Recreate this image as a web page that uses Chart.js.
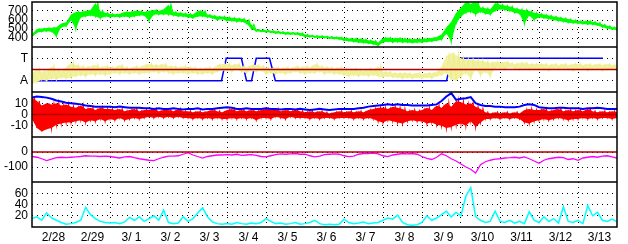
<!DOCTYPE html>
<html>
<head>
<meta charset="utf-8">
<script src="https://cdn.jsdelivr.net/npm/chart.js@4.4.1/dist/chart.umd.min.js"></script>
<style>
  html, body { margin: 0; padding: 0; background: #fff; }
  canvas { display: block; }
</style>
</head>
<body>
<canvas id="chart" width="628" height="244"></canvas>
<script>
// one value every 3 hours, 8 per day, 2/28 00:00 .. 3/14 00:00
const dayLabels = ['2/28', '2/29', '3/ 1', '3/ 2', '3/ 3', '3/ 4', '3/ 5', '3/ 6',
                   '3/ 7', '3/ 8', '3/ 9', '3/10', '3/11', '3/12', '3/13'];
const samplesPerDay = 8;

// solar wind speed, low / high of each 3h bin
const speedLo = [
  420, 460, 470, 475, 470, 420, 520, 530,
  600, 500, 630, 640, 650, 640, 620, 640,
  630, 635, 630, 640, 630, 640, 650, 650,
  590, 660, 660, 660, 660, 650, 640, 640,
  630, 620, 640, 640, 630, 620, 600, 610,
  590, 590, 580, 580, 560, 500, 475, 470,
  465, 460, 450, 450, 440, 440, 440, 430,
  410, 410, 405, 400, 400, 395, 390, 385,
  370, 365, 355, 350, 345, 340, 330, 315,
  350, 360, 350, 355, 350, 350, 345, 350,
  350, 355, 360, 370, 380, 450, 360, 560,
  640, 680, 690, 660, 690, 670, 660, 700,
  720, 710, 700, 680, 670, 560, 650, 600,
  630, 620, 610, 600, 590, 580, 570, 565,
  560, 555, 550, 550, 540, 520, 505, 495, 490
];
const speedHi = [
  445, 500, 505, 510, 515, 520, 560, 575,
  660, 690, 690, 700, 710, 790, 700, 680,
  670, 665, 670, 690, 690, 700, 700, 690,
  700, 710, 700, 720, 770, 690, 680, 675,
  670, 660, 700, 700, 660, 650, 640, 640,
  630, 625, 620, 615, 600, 550, 495, 490,
  485, 480, 475, 470, 465, 460, 460, 455,
  440, 430, 425, 425, 420, 415, 410, 410,
  400, 395, 395, 390, 385, 375, 370, 350,
  400, 405, 395, 400, 395, 390, 385, 390,
  390, 395, 400, 410, 440, 520, 580, 680,
  740, 800, 780, 800, 740, 730, 720, 790,
  770, 760, 750, 730, 720, 710, 700, 680,
  670, 660, 650, 640, 630, 620, 610, 600,
  590, 585, 590, 580, 570, 550, 535, 520, 510
];

// IMF polarity (T = 1, A = -1), low / high of each bin
const polarityLo = [
  -1.3, -1.1, -0.9, -1.0, -0.8, -0.9, -0.7, -0.8,
  -0.7, -0.6, -0.5, -0.6, -0.4, -0.5, -0.4, -0.5,
  -0.4, -0.3, -0.4, -0.3, -0.4, -0.3, -0.4, -0.3,
  -0.3, -0.2, -0.3, -0.2, -0.3, -0.4, -0.3, -0.3,
  -0.4, -0.3, -0.4, -0.4, -0.3, -0.4, -0.2, -0.1,
  -0.1, -0.2, 0.0, -0.2, -0.3, -0.1, -0.2, -0.1,
  -0.4, -0.3, -0.4, -0.3, -0.4, -0.3, -0.2, -0.3,
  -0.4, -0.3, -0.3, -0.2, -0.4, -0.3, -0.4, -0.4,
  -0.5, -0.6, -0.5, -0.6, -0.5, -0.6, -0.5, -0.6,
  -0.7, -0.6, -0.7, -0.7, -0.8, -0.7, -0.8, -0.7,
  -0.8, -0.7, -0.8, -0.6, -0.5, -0.3, -0.9, -1.0,
  -0.6, -0.3, -0.8, 0.0, -0.5, -0.2, -0.6, 0.1,
  0.1, 0.0, 0.2, 0.1, 0.0, 0.1, 0.0, 0.1,
  0.0, 0.1, -0.1, 0.1, 0.0, 0.1, 0.0, -0.1,
  0.0, 0.1, -0.1, 0.0, 0.1, -0.1, 0.0, 0.1, 0.0
];
const polarityHi = [
  -0.3, 0.0, -0.2, -0.1, 0.3, 0.0, -0.1, 0.2,
  0.6, 0.4, 0.3, 0.2, 0.3, 0.4, 0.2, 0.3,
  0.2, 0.2, 0.4, 0.2, 0.1, 0.3, 0.2, 0.4,
  0.5, 0.4, 0.4, 0.5, 0.3, 0.3, 0.2, 0.3,
  0.2, 0.2, 0.1, 0.1, 0.2, 0.1, 0.4, 0.5,
  0.5, 0.4, 0.5, 0.3, 0.2, 0.4, 0.4, 0.3,
  0.2, 0.1, 0.2, 0.1, 0.2, 0.1, 0.3, 0.2,
  0.3, 0.2, 0.5, 0.3, 0.2, 0.2, 0.1, 0.2,
  0.1, 0.0, 0.1, 0.0, -0.1, 0.1, 0.0, 0.3,
  -0.2, -0.2, -0.3, -0.3, -0.3, -0.3, -0.4, -0.3,
  -0.4, -0.3, -0.3, -0.2, 0.3, 1.2, 1.5, 1.3,
  1.0, 0.9, 0.9, 0.8, 0.8, 0.7, 0.6, 0.7,
  0.6, 0.7, 0.6, 0.5, 0.6, 0.6, 0.5, 0.5,
  0.5, 0.5, 0.4, 0.5, 0.4, 0.5, 0.4, 0.5,
  0.5, 0.4, 0.5, 0.4, 0.5, 0.4, 0.5, 0.4, 0.4
];

// sector boundaries (day, value)
const sectorDays   = [0, 4.86, 4.98, 5.37, 5.50, 5.63, 5.75, 6.09, 6.24, 10.63, 10.76, 14.64];
const sectorValues = [-1, -1, 1, 1, -1, -1, 1, 1, -1, -1, 1, 1];

// |B| (nT)
const bTotal = [
  15, 16, 15.5, 15, 14, 12.5, 11.5, 10.5,
  10, 9.5, 9, 8, 7.5, 7, 7, 7,
  7, 6.5, 7, 6.5, 6, 6, 6, 5.5,
  5.5, 5, 5.5, 5, 5, 5.5, 5, 4.5,
  5, 5, 5.5, 4.5, 5, 5, 5.5, 6,
  6.5, 6, 5, 5, 5.5, 5, 5, 5,
  5.5, 5, 5, 4.5, 5, 5, 4.5, 5,
  4.5, 4, 4.5, 5, 4.5, 4, 4.5, 5,
  5, 5, 5, 5.5, 6, 7, 7.5, 8,
  8.5, 9, 8.5, 9, 8.5, 8.5, 8, 8,
  8, 8, 8.5, 9, 12, 16, 19, 13,
  14, 14.5, 15.5, 10, 8.5, 7.5, 7.5, 7,
  7, 6.5, 6.5, 6.5, 7, 8.5, 9, 8.5,
  6.5, 6, 5.5, 5.5, 6, 6, 5.5, 5.5,
  5.5, 5, 5.5, 5.5, 6, 5.5, 5, 5, 5
];

// Bz (nT), high / low of each bin
const bzHi = [
  15, 12, 8, 10, 9, 10, 8, 9,
  7, 6, 8, 5, 6, 4, 6, 5,
  5, 4, 5, 3, 4, 5, 3, 4,
  4, 5, 3, 4, 4, 3, 5, 3,
  3, 2, 3, 2, 3, 4, 3, 2,
  4, 5, 3, 4, 3, 4, 3, 4,
  5, 4, 5, 3, 4, 3, 4, 3,
  2, 3, 2, 3, 2, 1, 2, 3,
  2, 3, 2, 3, 2, 4, 5, 6,
  6, 5, 7, 6, 5, 3, 4, 3,
  4, 6, 4, 8, 6, 10, 7, 12,
  11, 9, 10, 7, 5, 2, 1, 2,
  1, 2, 1, 2, 1, 4, 5, 4,
  4, 5, 3, 4, 5, 3, 4, 3,
  4, 3, 5, 3, 2, 3, 2, 3, 2
];
const bzLo = [
  -4, -12, -15, -13, -12, -9, -8, -7,
  -7, -6, -5, -7, -5, -6, -4, -6,
  -4, -5, -3, -5, -4, -3, -4, -3,
  -2, -3, -2, -3, -2, -3, -2, -3,
  -3, -4, -3, -4, -3, -4, -3, -4,
  -4, -3, -4, -3, -4, -3, -5, -3,
  -3, -4, -2, -3, -4, -2, -3, -3,
  -3, -4, -3, -4, -3, -3, -4, -3,
  -3, -3, -4, -3, -4, -3, -4, -6,
  -7, -5, -6, -7, -8, -6, -5, -6,
  -6, -8, -7, -9, -10, -12, -11, -9,
  -8, -10, -6, -11, -7, -4, -4, -3,
  -4, -3, -4, -3, -4, -7, -8, -6,
  -5, -4, -5, -4, -3, -4, -5, -4,
  -4, -3, -4, -3, -4, -3, -3, -4, -3
];

// Dst (nT)
const dst = [
  -30, -35, -45, -57, -48, -38, -35, -38,
  -35, -32, -30, -25, -27, -28, -30, -28,
  -30, -35, -40, -32, -30, -38, -45, -50,
  -55, -58, -45, -35, -28, -27, -25, -15,
  -5, -20, -30, -40, -30, -25, -20, -20,
  -18, -20, -15, -22, -20, -18, -22, -30,
  -33, -25, -18, -12, -15, -12, -10, -15,
  -15, -25, -33, -28, -18, -15, -12, -15,
  -25, -31, -28, -15, -10, -10, -8, -12,
  -25, -31, -20, -15, -10, -12, -10, -15,
  -30, -42, -50, -35, -12, -25, -45, -60,
  -80, -100, -115, -140, -85, -65, -55, -48,
  -45, -40, -38, -35, -40, -33, -45, -60,
  -75, -55, -45, -40, -35, -38, -50, -45,
  -55, -40, -35, -30, -35, -28, -25, -32, -40
];

// bottom panel (cyan)
const bottomVals = [
  15, 18, 12, 25, 16, 12, 8, 5,
  6, 8, 12, 35, 22, 15, 10, 8,
  7, 8, 6, 9, 17, 12, 18, 10,
  15, 20, 12, 30, 8, 6, 7, 18,
  10, 15, 25, 34, 18, 9, 6, 5,
  6, 5, 8, 6, 5, 7, 6, 8,
  15, 10, 6, 7, 5, 6, 8, 5,
  6, 8, 12, 6, 4, 5, 4, 5,
  14, 8, 6, 7, 9, 6, 7, 8,
  12, 16, 14, 21, 8, 4, 3, 4,
  8, 20, 12, 16, 22, 28, 18, 26,
  20, 55, 70, 18, 12, 8, 10, 28,
  10, 8, 12, 7, 10, 6, 27, 12,
  8, 18, 10, 15, 7, 36, 10, 8,
  12, 6, 38, 20, 26, 12, 10, 14, 9
];

const speedTicks = [400, 500, 600, 700];
const sectorTicks = [-1, 1];
const sectorTickLabels = ['A', 'T'];
const bTicks = [-10, 0, 10];
const dstTicks = [-100, 0];
const bottomTicks = [20, 40, 60];

const toDay = i => i / samplesPerDay;
const line = arr => arr.map((v, i) => ({ x: toDay(i), y: v }));
// low and high of each bin joined into one jagged trace
const jagged = (lo, hi) => lo.flatMap((v, i) => [
  { x: toDay(i), y: v },
  { x: toDay(i) + 0.5 / samplesPerDay, y: hi[i] }
]).slice(0, -1);

const tickFont = { family: "'Liberation Sans', Arial, sans-serif", size: 12 };

function panelScale(min, max, ticks, weight, names) {
  return {
    type: 'linear', position: 'left', stack: 'panels', stackWeight: 1, weight: weight,
    min: min, max: max,
    afterFit: s => { s.width = 32; s.paddingTop = 0; s.paddingBottom = 0; },
    afterBuildTicks: s => { s.ticks = ticks.map(v => ({ value: v })); },
    grid: { color: '#000', lineWidth: 1, drawTicks: false },
    border: { display: false, dash: [1, 4] },
    ticks: {
      autoSkip: false, color: '#000', padding: 4, font: tickFont,
      callback: v => names ? names[ticks.indexOf(v)] : String(v)
    }
  };
}

// filled band between the low and high trace of a series
function bandSets(lo, hi, axis, color, fillColor) {
  return [
    { data: jagged(lo, hi), yAxisID: axis, borderColor: color, borderWidth: 1.2 },
    { data: line(hi), yAxisID: axis, borderWidth: 0, backgroundColor: fillColor, fill: '+1' },
    { data: line(lo), yAxisID: axis, borderWidth: 0 }
  ];
}

const xTicks = [];
for (let d = 0; d <= dayLabels.length; d += 0.5) xTicks.push(d);

const frame = {
  id: 'frame',
  afterDatasetsDraw(chart) {
    const { ctx, chartArea: a, scales } = chart;
    ctx.save();
    ctx.lineWidth = 1.5;
    ctx.strokeStyle = '#b00000';
    ['ySector', 'yB', 'yDst'].forEach(id => {
      const y = scales[id].getPixelForValue(0);
      ctx.beginPath(); ctx.moveTo(a.left, y); ctx.lineTo(a.right, y); ctx.stroke();
    });
    ctx.strokeStyle = '#000';
    ['ySpeed', 'ySector', 'yB', 'yDst'].forEach(id => {
      const y = scales[id].bottom;
      ctx.beginPath(); ctx.moveTo(a.left, y); ctx.lineTo(a.right, y); ctx.stroke();
    });
    ctx.strokeRect(a.left, a.top, a.right - a.left, a.bottom - a.top);
    ctx.restore();
  }
};

new Chart(document.getElementById('chart'), {
  type: 'line',
  data: {
    datasets: [
      ...bandSets(speedLo, speedHi, 'ySpeed', '#00ff00', '#00ff00'),
      ...bandSets(polarityLo, polarityHi, 'ySector', '#eeee90', '#f2f2a4'),
      { data: sectorDays.map((d, i) => ({ x: d, y: sectorValues[i] })), yAxisID: 'ySector',
        borderColor: '#0000ff', borderWidth: 1.5 },
      { data: line(bTotal), yAxisID: 'yB', borderColor: '#0000ff', borderWidth: 2 },
      ...bandSets(bzLo, bzHi, 'yB', '#ff0000', '#ff0000'),
      { data: line(dst), yAxisID: 'yDst', borderColor: '#ff00ff', borderWidth: 1.3 },
      { data: line(bottomVals), yAxisID: 'yBottom', borderColor: '#00ffff', borderWidth: 1.5 }
    ]
  },
  options: {
    responsive: false,
    animation: false,
    layout: { padding: { top: 2, right: 11, left: 0, bottom: 0 } },
    plugins: { legend: { display: false }, tooltip: { enabled: false } },
    elements: { point: { radius: 0 }, line: { tension: 0, fill: false } },
    scales: {
      x: {
        type: 'linear', min: 0, max: dayLabels.length,
        afterFit: s => { s.height = 17; s.paddingLeft = 0; s.paddingRight = 0; },
        afterBuildTicks: s => { s.ticks = xTicks.map(v => ({ value: v })); },
        grid: {
          drawTicks: false, lineWidth: 1,
          color: c => (c.tick && Number.isInteger(c.tick.value) && c.tick.value > 0 &&
                       c.tick.value < dayLabels.length) ? '#000' : 'rgba(0,0,0,0)'
        },
        border: { display: false, dash: [1, 4] },
        ticks: {
          autoSkip: false, maxRotation: 0, minRotation: 0, padding: 3, labelOffset: 2,
          color: '#000', font: tickFont,
          callback: v => (v % 1 === 0.5 ? dayLabels[Math.floor(v)] : '')
        }
      },
      ySpeed: panelScale(300, 800, speedTicks, 5),
      ySector: panelScale(-2, 2, sectorTicks, 4, sectorTickLabels),
      yB: panelScale(-20, 20, bTicks, 3),
      yDst: panelScale(-200, 100, dstTicks, 2),
      yBottom: panelScale(0, 80, bottomTicks, 1)
    }
  },
  plugins: [frame]
});
</script>
</body>
</html>
